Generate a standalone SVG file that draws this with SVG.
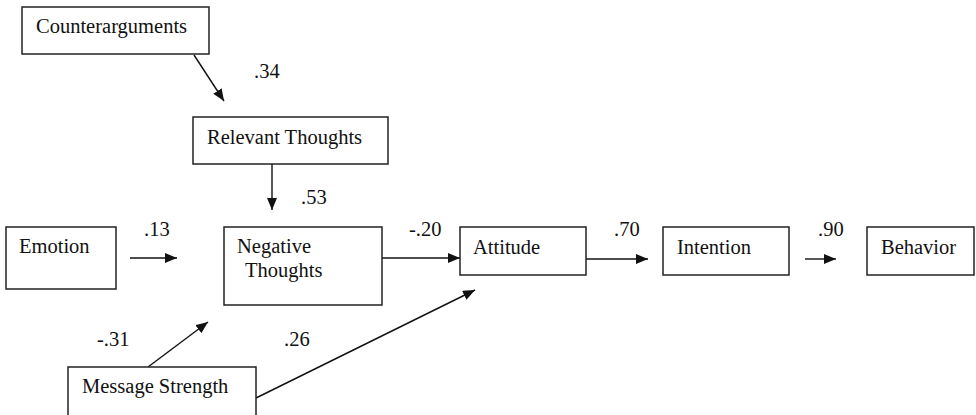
<svg xmlns="http://www.w3.org/2000/svg" width="976" height="415" viewBox="0 0 976 415">
<style>
.box{fill:#fff;stroke:#222;stroke-width:1.5}
.t{font-family:"Liberation Serif","Times New Roman",serif;font-size:20.5px;fill:#111}
.c{stroke:#111;stroke-width:1.4;fill:none;marker-end:url(#ah)}
</style>
<defs>
<marker id="ah" markerUnits="userSpaceOnUse" markerWidth="12" markerHeight="10" refX="12" refY="5" orient="auto">
<path d="M0,0 L12,5 L0,10 z" fill="#111"/>
</marker>
</defs>
<rect width="976" height="415" fill="#fff"/>
<g id="connectors">
<line class="c" x1="194" y1="55" x2="224" y2="101"/>
<line class="c" x1="272" y1="164" x2="272" y2="210"/>
<line class="c" x1="130" y1="258" x2="177" y2="258"/>
<line class="c" x1="382" y1="258" x2="460" y2="258"/>
<line class="c" x1="586" y1="259" x2="648" y2="259"/>
<line class="c" x1="805" y1="259" x2="836" y2="259"/>
<line class="c" x1="148" y1="367" x2="208" y2="322"/>
<line class="c" x1="256" y1="398" x2="475" y2="290"/>
</g>
<g id="labels" class="t">
<text x="254" y="78">.34</text>
<text x="301" y="204">.53</text>
<text x="144" y="236">.13</text>
<text x="409" y="236">-.20</text>
<text x="614" y="236">.70</text>
<text x="818" y="236">.90</text>
<text x="97" y="346">-.31</text>
<text x="284" y="346">.26</text>
</g>
<g id="counterarguments"><rect class="box" x="22" y="7" width="187" height="47"/><text class="t" x="36" y="33">Counterarguments</text></g>
<g id="relevant-thoughts"><rect class="box" x="193" y="117" width="195" height="47"/><text class="t" x="207" y="144">Relevant Thoughts</text></g>
<g id="emotion"><rect class="box" x="6" y="227" width="110" height="62"/><text class="t" x="19" y="253">Emotion</text></g>
<g id="negative-thoughts"><rect class="box" x="224" y="227" width="158" height="78"/><text class="t" x="237" y="253">Negative</text><text class="t" x="245" y="277">Thoughts</text></g>
<g id="attitude"><rect class="box" x="460" y="227" width="126" height="48"/><text class="t" x="473" y="254">Attitude</text></g>
<g id="intention"><rect class="box" x="663" y="227" width="126" height="48"/><text class="t" x="677" y="254">Intention</text></g>
<g id="behavior"><rect class="box" x="867" y="227" width="107" height="48"/><text class="t" x="881" y="254">Behavior</text></g>
<g id="message-strength"><rect class="box" x="68" y="367" width="188" height="60"/><text class="t" x="82" y="393">Message Strength</text></g>
</svg>
